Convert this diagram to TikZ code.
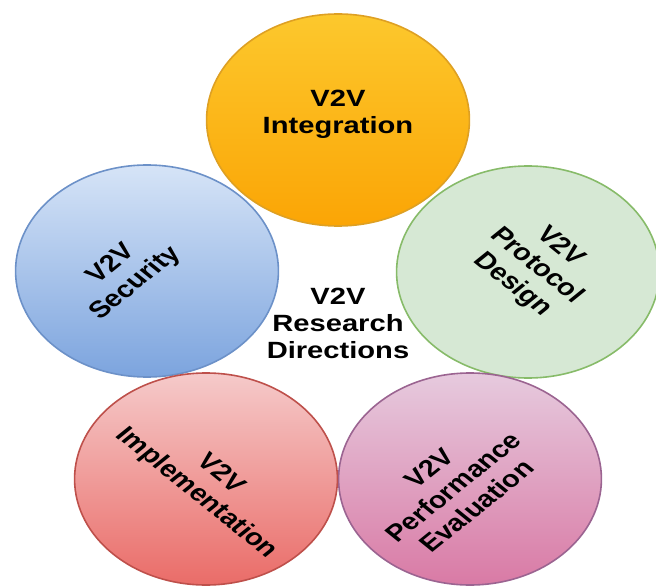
\documentclass[tikz,border=0pt]{standalone}
\usepackage{fontspec}
\setmainfont{Liberation Sans}
\begin{document}
\begin{tikzpicture}[x=1pt,y=1pt,
  bubble/.style={circle, minimum size=212pt, inner sep=0pt, line width=1.6pt},
  lbl/.style={align=center, font=\bfseries\fontsize{23.5}{27}\selectfont, inner sep=0pt, text=black}]
\useasboundingbox (0,0) rectangle (656,-588);
\begin{scope}[xscale=1.24, transform shape]
  \node[bubble, draw={rgb,255:red,108;green,145;blue,200}, top color={rgb,255:red,214;green,228;blue,247}, bottom color={rgb,255:red,124;green,164;blue,222}] (sec) at ({147/1.24},-271) {};
  \node[bubble, draw={rgb,255:red,135;green,187;blue,105}, fill={rgb,255:red,214;green,232;blue,212}] (pro) at ({528/1.24},-272) {};
  \node[bubble, draw={rgb,255:red,155;green,100;blue,145}, top color={rgb,255:red,230;green,202;blue,222}, bottom color={rgb,255:red,217;green,122;blue,165}] (per) at ({470/1.24},-479) {};
  \node[bubble, draw={rgb,255:red,190;green,80;blue,75}, top color={rgb,255:red,245;green,202;blue,202}, bottom color={rgb,255:red,234;green,108;blue,104}] (imp) at ({206/1.24},-479) {};
  \node[bubble, draw={rgb,255:red,222;green,160;blue,35}, top color={rgb,255:red,252;green,200;blue,45}, bottom color={rgb,255:red,251;green,165;blue,5}] (int) at ({338/1.24},-120) {};

  \node[lbl] (tint) at ({338/1.24},-114) {V2V\\Integration};
  \node[lbl, rotate=45] (tsec) at ({124/1.24},-274) {V2V\\Security};
  \node[lbl, rotate=-45] (tpro) at ({536/1.24},-266) {V2V\\Protocol\\Design};
  \node[lbl, rotate=-45] (timp) at ({208/1.24},-484) {V2V\\Implementation};
  \node[lbl, rotate=45] (tper) at ({453/1.24},-487) {V2V\\Performance\\Evaluation};
  \node[lbl] (center) at ({338/1.24},-323) {V2V\\Research\\Directions};
\end{scope}
\end{tikzpicture}
\end{document}
